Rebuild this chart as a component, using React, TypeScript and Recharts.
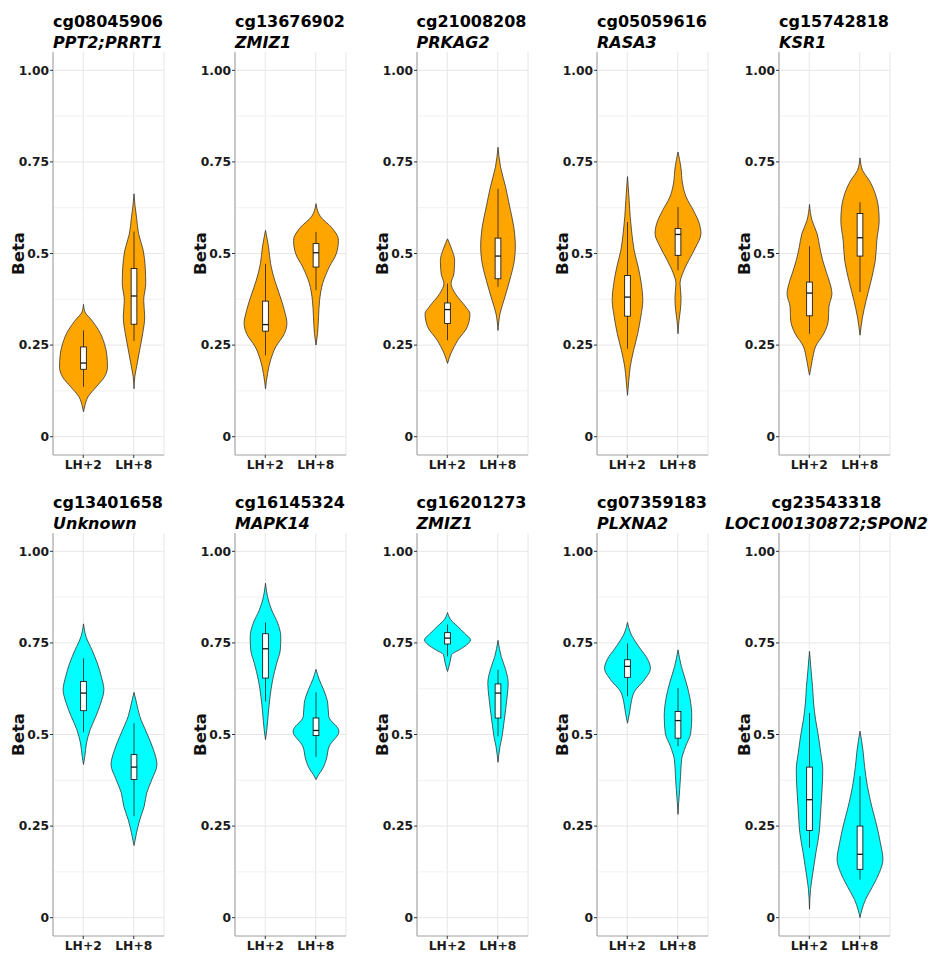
import React from "react";
import { BarChart, Bar, XAxis, YAxis, CartesianGrid, Curve } from "recharts";

// Violin profiles: [beta, half-width as a fraction of the category band]
// Box stats: [lower whisker, Q1, median, Q3, upper whisker]
const groups = ["LH+2", "LH+8"];

const probes = [
  "cg08045906", "cg13676902", "cg21008208", "cg05059616", "cg15742818",
  "cg13401658", "cg16145324", "cg16201273", "cg07359183", "cg23543318",
];
const genes = [
  "PPT2;PRRT1", "ZMIZ1", "PRKAG2", "RASA3", "KSR1",
  "Unknown", "MAPK14", "ZMIZ1", "PLXNA2", "LOC100130872;SPON2",
];

const cg08045906_density = [
  [[0.361, 0], [0.340, 0.03], [0.318, 0.16], [0.290, 0.30], [0.254, 0.41], [0.220, 0.46], [0.190, 0.47], [0.163, 0.41], [0.136, 0.25], [0.109, 0.09], [0.081, 0.02], [0.068, 0]],
  [[0.663, 0], [0.630, 0.02], [0.599, 0.05], [0.554, 0.09], [0.509, 0.18], [0.463, 0.22], [0.418, 0.23], [0.372, 0.19], [0.327, 0.21], [0.281, 0.17], [0.236, 0.11], [0.190, 0.05], [0.163, 0.015], [0.131, 0]],
];
const cg08045906_box = [[0.136, 0.184, 0.201, 0.245, 0.290], [0.261, 0.307, 0.384, 0.459, 0.56]];

const cg13676902_density = [
  [[0.563, 0], [0.518, 0.06], [0.472, 0.10], [0.427, 0.18], [0.390, 0.27], [0.345, 0.37], [0.309, 0.42], [0.281, 0.37], [0.245, 0.20], [0.209, 0.10], [0.172, 0.04], [0.131, 0]],
  [[0.636, 0], [0.600, 0.09], [0.572, 0.30], [0.536, 0.44], [0.500, 0.40], [0.463, 0.26], [0.418, 0.13], [0.372, 0.07], [0.327, 0.05], [0.281, 0.03], [0.250, 0]],
];
const cg13676902_box = [[0.222, 0.288, 0.306, 0.370, 0.472], [0.400, 0.463, 0.502, 0.527, 0.559]];

const cg21008208_density = [
  [[0.540, 0], [0.513, 0.08], [0.481, 0.14], [0.445, 0.125], [0.418, 0.07], [0.390, 0.155], [0.354, 0.36], [0.336, 0.44], [0.300, 0.39], [0.263, 0.20], [0.227, 0.066], [0.200, 0]],
  [[0.790, 0], [0.736, 0.05], [0.681, 0.15], [0.627, 0.23], [0.572, 0.31], [0.518, 0.34], [0.481, 0.32], [0.427, 0.23], [0.372, 0.115], [0.336, 0.04], [0.290, 0]],
];
const cg21008208_box = [[0.263, 0.309, 0.347, 0.365, 0.418], [0.409, 0.431, 0.493, 0.542, 0.677]];

const cg05059616_density = [
  [[0.710, 0], [0.645, 0.033], [0.600, 0.053], [0.554, 0.086], [0.509, 0.13], [0.463, 0.21], [0.418, 0.27], [0.372, 0.30], [0.327, 0.26], [0.281, 0.20], [0.236, 0.12], [0.190, 0.053], [0.154, 0.026], [0.113, 0]],
  [[0.777, 0], [0.736, 0.056], [0.690, 0.09], [0.654, 0.16], [0.618, 0.30], [0.581, 0.42], [0.554, 0.45], [0.518, 0.35], [0.481, 0.21], [0.445, 0.09], [0.418, 0.04], [0.381, 0.06], [0.345, 0.046], [0.318, 0.02], [0.281, 0]],
];
const cg05059616_box = [[0.240, 0.329, 0.381, 0.440, 0.586], [0.454, 0.495, 0.552, 0.568, 0.627]];

const cg15742818_density = [
  [[0.634, 0], [0.590, 0.05], [0.554, 0.15], [0.518, 0.20], [0.481, 0.26], [0.445, 0.34], [0.409, 0.42], [0.390, 0.44], [0.354, 0.38], [0.318, 0.37], [0.281, 0.28], [0.245, 0.115], [0.227, 0.08], [0.190, 0.03], [0.168, 0]],
  [[0.761, 0], [0.727, 0.05], [0.700, 0.18], [0.663, 0.30], [0.627, 0.36], [0.590, 0.376], [0.536, 0.33], [0.481, 0.30], [0.427, 0.22], [0.372, 0.12], [0.327, 0.05], [0.277, 0]],
];
const cg15742818_box = [[0.281, 0.330, 0.392, 0.422, 0.520], [0.395, 0.493, 0.543, 0.609, 0.640]];

const cg13401658_density = [
  [[0.802, 0], [0.767, 0.05], [0.731, 0.165], [0.695, 0.27], [0.658, 0.35], [0.622, 0.40], [0.586, 0.34], [0.549, 0.24], [0.513, 0.13], [0.477, 0.06], [0.441, 0.026], [0.418, 0]],
  [[0.615, 0], [0.586, 0.05], [0.549, 0.115], [0.504, 0.25], [0.459, 0.38], [0.418, 0.45], [0.377, 0.35], [0.341, 0.25], [0.304, 0.20], [0.268, 0.115], [0.232, 0.05], [0.197, 0]],
];
const cg13401658_box = [[0.506, 0.565, 0.613, 0.645, 0.708], [0.277, 0.377, 0.411, 0.445, 0.531]];

const cg16145324_density = [
  [[0.913, 0], [0.876, 0.04], [0.840, 0.12], [0.804, 0.24], [0.767, 0.30], [0.731, 0.29], [0.695, 0.22], [0.649, 0.14], [0.604, 0.09], [0.559, 0.056], [0.513, 0.026], [0.486, 0]],
  [[0.678, 0], [0.649, 0.066], [0.622, 0.15], [0.586, 0.23], [0.549, 0.25], [0.509, 0.45], [0.468, 0.26], [0.431, 0.20], [0.404, 0.12], [0.390, 0.05], [0.377, 0]],
];
const cg16145324_box = [[0.590, 0.654, 0.734, 0.775, 0.806], [0.439, 0.497, 0.511, 0.545, 0.615]];

const cg16201273_density = [
  [[0.833, 0], [0.813, 0.066], [0.795, 0.20], [0.777, 0.33], [0.758, 0.45], [0.745, 0.38], [0.731, 0.23], [0.718, 0.08], [0.700, 0.053], [0.684, 0.026], [0.672, 0]],
  [[0.757, 0], [0.713, 0.063], [0.677, 0.15], [0.640, 0.20], [0.604, 0.18], [0.568, 0.15], [0.531, 0.115], [0.495, 0.08], [0.468, 0.04], [0.424, 0]],
];
const cg16201273_box = [[0.713, 0.747, 0.763, 0.778, 0.800], [0.495, 0.545, 0.613, 0.638, 0.677]];

const cg07359183_density = [
  [[0.806, 0], [0.777, 0.06], [0.740, 0.22], [0.704, 0.40], [0.681, 0.45], [0.649, 0.33], [0.618, 0.14], [0.586, 0.07], [0.559, 0.04], [0.531, 0]],
  [[0.731, 0], [0.686, 0.066], [0.640, 0.165], [0.595, 0.24], [0.549, 0.27], [0.504, 0.25], [0.468, 0.15], [0.431, 0.07], [0.386, 0.05], [0.350, 0.033], [0.313, 0.013], [0.282, 0]],
];
const cg07359183_box = [[0.604, 0.656, 0.686, 0.704, 0.749], [0.468, 0.490, 0.538, 0.563, 0.627]];

const cg23543318_density = [
  [[0.727, 0], [0.677, 0.03], [0.631, 0.06], [0.586, 0.08], [0.540, 0.12], [0.504, 0.165], [0.450, 0.22], [0.404, 0.26], [0.359, 0.25], [0.313, 0.23], [0.268, 0.21], [0.232, 0.19], [0.177, 0.125], [0.123, 0.066], [0.077, 0.02], [0.023, 0]],
  [[0.509, 0], [0.459, 0.056], [0.413, 0.09], [0.359, 0.145], [0.304, 0.23], [0.250, 0.33], [0.204, 0.40], [0.159, 0.45], [0.123, 0.38], [0.086, 0.25], [0.050, 0.11], [0.023, 0.04], [0.0, 0]],
];
const cg23543318_box = [[0.191, 0.238, 0.322, 0.411, 0.559], [0.104, 0.132, 0.173, 0.250, 0.386]];

const densities = [
  cg08045906_density, cg13676902_density, cg21008208_density, cg05059616_density, cg15742818_density,
  cg13401658_density, cg16145324_density, cg16201273_density, cg07359183_density, cg23543318_density,
];
const boxes = [
  cg08045906_box, cg13676902_box, cg21008208_box, cg05059616_box, cg15742818_box,
  cg13401658_box, cg16145324_box, cg16201273_box, cg07359183_box, cg23543318_box,
];

const ORANGE = "#FFA500";
const CYAN = "#00FFFF";
const FONT = "'DejaVu Sans', sans-serif";

const betaTicks = [0, 0.25, 0.5, 0.75, 1];
const minorTicks = [0.125, 0.375, 0.625, 0.875];
const fmtBeta = (v: number) => (v === 0 ? "0" : v === 1 ? "1.00" : String(v));

const colLeft = [53, 235, 416.5, 597, 779];
const rowTop = [52, 533];
const AXIS_W = 53;
const PLOT_W = 111;
const PLOT_H = 403;

// Draws a violin plus its box plot inside the band the Bar hands us.
// The bar spans [min, max] of the profile so its pixel extent gives the y mapping.
const ViolinShape = (props: any) => {
  const { x, y, width, height, payload, fill } = props;
  const [lo, hi] = payload.range;
  const top = Math.min(y, y + height);
  const bottom = Math.max(y, y + height);
  const toY = (v: number) => bottom - ((v - lo) / (hi - lo)) * (bottom - top);
  const cx = x + width / 2;
  const pts = [...payload.density].sort((a: number[], b: number[]) => b[0] - a[0]);
  const right = pts.map(([v, w]: number[]) => ({ x: cx + w * width, y: toY(v) }));
  const left = pts.map(([v, w]: number[]) => ({ x: cx - w * width, y: toY(v) }));
  const [wLo, q1, med, q3, wHi] = payload.box;
  const bw = 0.056 * width;
  return (
    <g>
      <Curve
        type="monotone"
        layout="vertical"
        points={right}
        baseLine={left}
        fill={fill}
        stroke="#333"
        strokeWidth={0.8}
      />
      <line x1={cx} x2={cx} y1={toY(wHi)} y2={toY(wLo)} stroke="#111" strokeWidth={0.75} />
      <rect
        x={cx - bw}
        y={toY(q3)}
        width={2 * bw}
        height={toY(q1) - toY(q3)}
        fill="#fff"
        stroke="#111"
        strokeWidth={0.85}
      />
      <line x1={cx - bw} x2={cx + bw} y1={toY(med)} y2={toY(med)} stroke="#111" strokeWidth={1.3} />
    </g>
  );
};

const BetaLabel = (props: any) => {
  const vb = props.viewBox || { x: 0, y: 2, width: AXIS_W, height: PLOT_H };
  const lx = vb.x + 18;
  const ly = vb.y + vb.height / 2;
  return (
    <text
      x={lx}
      y={ly}
      transform={`rotate(-90, ${lx}, ${ly})`}
      textAnchor="middle"
      dominantBaseline="central"
      fontFamily={FONT}
      fontWeight="bold"
      fontSize={16.5}
      fill="#111"
    >
      Beta
    </text>
  );
};

const tickStyle = { fontFamily: FONT, fontWeight: "bold", fontSize: 12.3, fill: "#1a1a1a" };
const BORDER = "#9e9e9e";

function ViolinPanel({ index }: { index: number }) {
  const row = index < 5 ? 0 : 1;
  const col = index % 5;
  const left = colLeft[col];
  const top = rowTop[row];
  const fill = row === 0 ? ORANGE : CYAN;
  const data = groups.map((g, i) => {
    const dens = densities[index][i];
    const vals = dens.map((p) => p[0]);
    return {
      group: g,
      range: [Math.min(...vals), Math.max(...vals)],
      density: dens,
      box: boxes[index][i],
    };
  });
  const longTitle = genes[index].length > 14;

  return (
    <>
      <div
        style={{
          position: "absolute",
          left: longTitle ? left + PLOT_W / 2 - 8 - 150 : left,
          width: longTitle ? 300 : 200,
          top: top - 40.75,
          textAlign: longTitle ? "center" : "left",
          fontFamily: FONT,
          fontWeight: "bold",
          fontSize: 16,
          lineHeight: "21px",
          color: "#000",
          whiteSpace: "nowrap",
        }}
      >
        <div>{probes[index]}</div>
        <div style={{ fontStyle: "italic" }}>{genes[index]}</div>
      </div>
      <div style={{ position: "absolute", left: left - AXIS_W, top: top - 2 }}>
        <BarChart
          width={AXIS_W + PLOT_W + 2}
          height={PLOT_H + 32}
          data={data}
          margin={{ top: 2, right: 2, left: 0, bottom: 0 }}
          barCategoryGap="0%"
          barGap={0}
        >
          <CartesianGrid stroke="#e6e6e6" horizontalValues={betaTicks} />
          <CartesianGrid stroke="#f1f1f1" vertical={false} horizontalValues={minorTicks} />
          <XAxis
            dataKey="group"
            padding={{ left: 5, right: 5 }}
            interval={0}
            height={30}
            tickSize={3}
            tickMargin={2}
            tick={tickStyle}
            axisLine={{ stroke: BORDER }}
            tickLine={{ stroke: "#333" }}
          />
          <XAxis
            xAxisId="top"
            orientation="top"
            dataKey="group"
            height={0}
            tick={false}
            tickLine={false}
            axisLine={{ stroke: BORDER }}
          />
          <YAxis
            type="number"
            domain={[-0.05, 1.05]}
            ticks={betaTicks}
            tickFormatter={fmtBeta}
            width={AXIS_W}
            tickSize={3}
            tickMargin={1}
            tick={tickStyle}
            axisLine={{ stroke: BORDER }}
            tickLine={{ stroke: "#333" }}
            label={{ content: BetaLabel }}
          />
          <YAxis
            yAxisId="right"
            orientation="right"
            width={0}
            tick={false}
            tickLine={false}
            axisLine={{ stroke: BORDER }}
          />
          <Bar dataKey="range" fill={fill} shape={ViolinShape} isAnimationActive={false} />
        </BarChart>
      </div>
    </>
  );
}

export default function App() {
  return (
    <div
      style={{
        position: "absolute",
        left: 0,
        top: 0,
        width: 930,
        height: 954,
        background: "#fff",
        overflow: "hidden",
      }}
    >
      {probes.map((p, i) => (
        <ViolinPanel key={p + i} index={i} />
      ))}
    </div>
  );
}
